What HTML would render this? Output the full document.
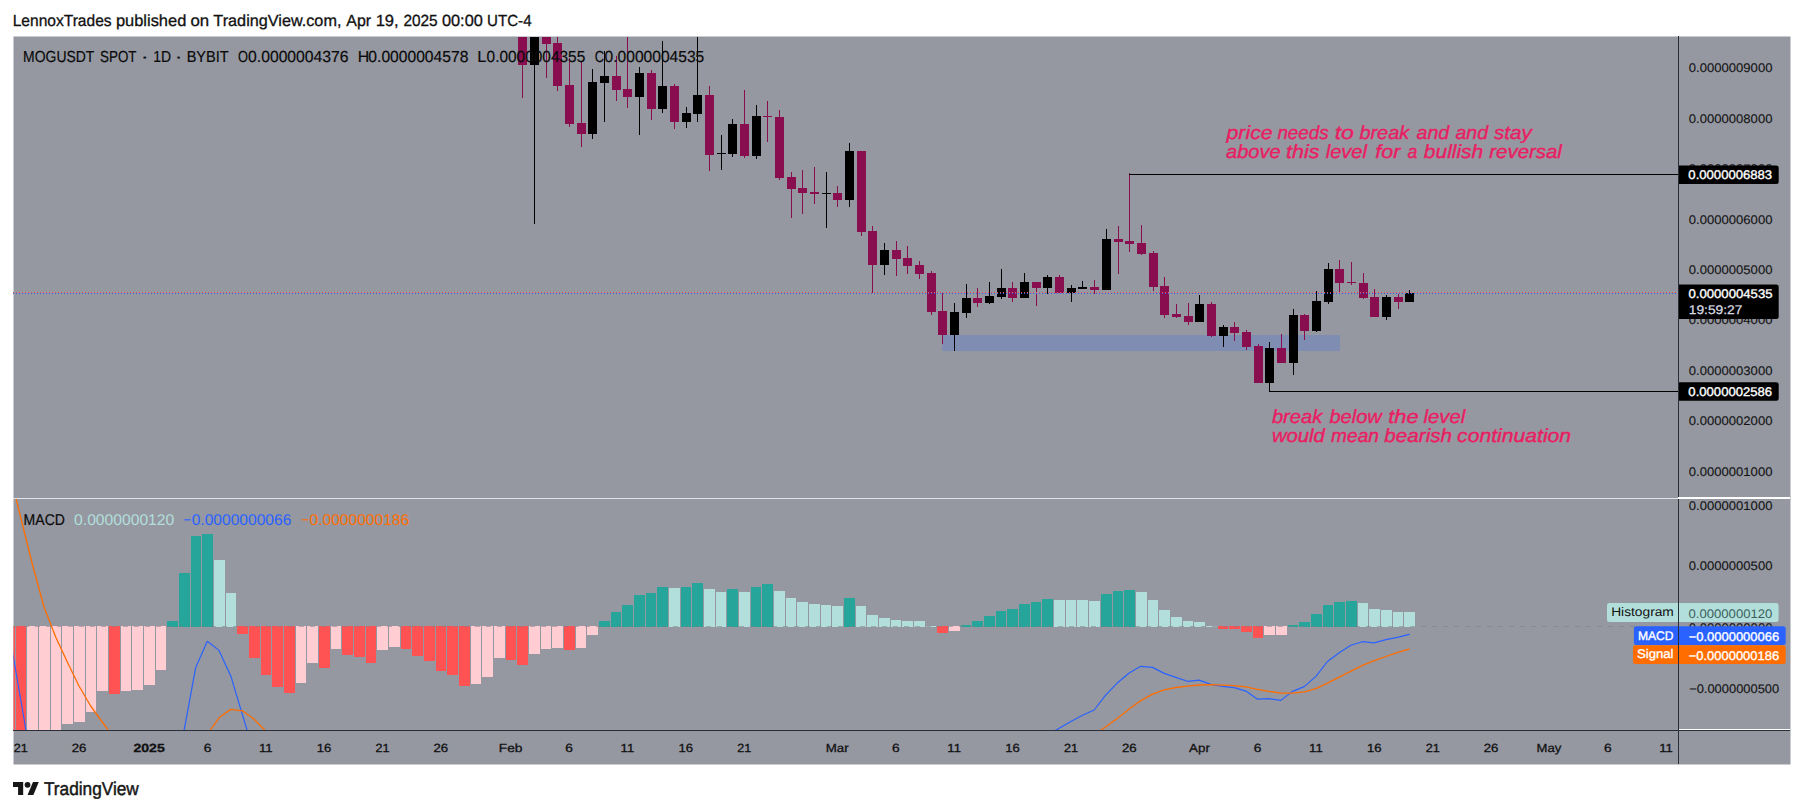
<!DOCTYPE html>
<html lang="en"><head><meta charset="utf-8"><title>MOGUSDT SPOT chart</title>
<style>html,body{margin:0;padding:0;background:#fff;}body{width:1804px;height:812px;overflow:hidden;}svg{display:block;}text{font-family:"Liberation Sans", Arial, sans-serif;text-rendering:geometricPrecision;}</style>
</head><body>
<svg width="1804" height="812" viewBox="0 0 1804 812">
<rect x="0" y="0" width="1804" height="812" fill="#ffffff"/>
<text y="26.05" font-size="16.1" fill="#111111" stroke="#111111" stroke-width="0.3"><tspan x="12.65" textLength="99.01" lengthAdjust="spacingAndGlyphs">LennoxTrades</tspan> <tspan x="115.93" textLength="70.38" lengthAdjust="spacingAndGlyphs">published</tspan> <tspan x="190.43" textLength="18.71" lengthAdjust="spacingAndGlyphs">on</tspan> <tspan x="213.38" textLength="128.05" lengthAdjust="spacingAndGlyphs">TradingView.com,</tspan> <tspan x="346.30" textLength="24.78" lengthAdjust="spacingAndGlyphs">Apr</tspan> <tspan x="375.66" textLength="23.04" lengthAdjust="spacingAndGlyphs">19,</tspan> <tspan x="403.43" textLength="34.28" lengthAdjust="spacingAndGlyphs">2025</tspan> <tspan x="441.95" textLength="40.87" lengthAdjust="spacingAndGlyphs">00:00</tspan> <tspan x="487.07" textLength="44.50" lengthAdjust="spacingAndGlyphs">UTC-4</tspan></text>
<rect x="13.5" y="36.5" width="1777" height="728" fill="#9598a1"/>
<defs><clipPath id="cm"><rect x="13.5" y="37" width="1664.5" height="461"/></clipPath><clipPath id="cd"><rect x="13.5" y="499" width="1664.5" height="231"/></clipPath></defs>
<g clip-path="url(#cm)" shape-rendering="crispEdges">
<rect x="942" y="335" width="398" height="16" fill="#2962ff" fill-opacity="0.2"/>
<rect x="522" y="30" width="1" height="68" fill="#880e4f"/>
<rect x="518" y="30" width="9" height="35" fill="#880e4f"/>
<rect x="534" y="30" width="1" height="194" fill="#000000"/>
<rect x="530" y="30" width="9" height="35" fill="#000000"/>
<rect x="546" y="30" width="1" height="48" fill="#880e4f"/>
<rect x="542" y="30" width="9" height="14" fill="#880e4f"/>
<rect x="557" y="30" width="1" height="61" fill="#880e4f"/>
<rect x="553" y="43" width="9" height="43" fill="#880e4f"/>
<rect x="569" y="58" width="1" height="69" fill="#880e4f"/>
<rect x="565" y="85" width="9" height="39" fill="#880e4f"/>
<rect x="581" y="62" width="1" height="85" fill="#880e4f"/>
<rect x="577" y="123" width="9" height="11" fill="#880e4f"/>
<rect x="592" y="69" width="1" height="70" fill="#000000"/>
<rect x="588" y="82" width="9" height="52" fill="#000000"/>
<rect x="604" y="51" width="1" height="71" fill="#000000"/>
<rect x="600" y="76" width="9" height="7" fill="#000000"/>
<rect x="616" y="56" width="1" height="45" fill="#880e4f"/>
<rect x="612" y="76" width="9" height="14" fill="#880e4f"/>
<rect x="627" y="30" width="1" height="78" fill="#880e4f"/>
<rect x="623" y="89" width="9" height="8" fill="#880e4f"/>
<rect x="639" y="67" width="1" height="68" fill="#000000"/>
<rect x="635" y="73" width="9" height="24" fill="#000000"/>
<rect x="651" y="70" width="1" height="50" fill="#880e4f"/>
<rect x="647" y="73" width="9" height="36" fill="#880e4f"/>
<rect x="662" y="41" width="1" height="72" fill="#000000"/>
<rect x="658" y="86" width="9" height="23" fill="#000000"/>
<rect x="674" y="84" width="1" height="45" fill="#880e4f"/>
<rect x="670" y="86" width="9" height="36" fill="#880e4f"/>
<rect x="686" y="107" width="1" height="21" fill="#000000"/>
<rect x="682" y="113" width="9" height="9" fill="#000000"/>
<rect x="697" y="37" width="1" height="85" fill="#000000"/>
<rect x="693" y="95" width="9" height="19" fill="#000000"/>
<rect x="709" y="86" width="1" height="85" fill="#880e4f"/>
<rect x="705" y="95" width="9" height="60" fill="#880e4f"/>
<rect x="721" y="135" width="1" height="35" fill="#000000"/>
<rect x="717" y="153" width="9" height="1" fill="#000000"/>
<rect x="732" y="119" width="1" height="38" fill="#000000"/>
<rect x="728" y="124" width="9" height="30" fill="#000000"/>
<rect x="744" y="90" width="1" height="68" fill="#880e4f"/>
<rect x="740" y="124" width="9" height="32" fill="#880e4f"/>
<rect x="756" y="105" width="1" height="54" fill="#000000"/>
<rect x="752" y="116" width="9" height="40" fill="#000000"/>
<rect x="767" y="101" width="1" height="41" fill="#880e4f"/>
<rect x="763" y="116" width="9" height="1" fill="#880e4f"/>
<rect x="779" y="110" width="1" height="70" fill="#880e4f"/>
<rect x="775" y="117" width="9" height="61" fill="#880e4f"/>
<rect x="791" y="172" width="1" height="46" fill="#880e4f"/>
<rect x="787" y="177" width="9" height="12" fill="#880e4f"/>
<rect x="802" y="170" width="1" height="44" fill="#880e4f"/>
<rect x="798" y="188" width="9" height="5" fill="#880e4f"/>
<rect x="814" y="167" width="1" height="37" fill="#880e4f"/>
<rect x="810" y="192" width="9" height="2" fill="#880e4f"/>
<rect x="826" y="172" width="1" height="56" fill="#000000"/>
<rect x="822" y="193" width="9" height="1" fill="#000000"/>
<rect x="837" y="186" width="1" height="21" fill="#880e4f"/>
<rect x="833" y="193" width="9" height="7" fill="#880e4f"/>
<rect x="849" y="143" width="1" height="64" fill="#000000"/>
<rect x="845" y="151" width="9" height="49" fill="#000000"/>
<rect x="861" y="151" width="1" height="85" fill="#880e4f"/>
<rect x="857" y="151" width="9" height="81" fill="#880e4f"/>
<rect x="872" y="226" width="1" height="67" fill="#880e4f"/>
<rect x="868" y="231" width="9" height="34" fill="#880e4f"/>
<rect x="884" y="243" width="1" height="32" fill="#000000"/>
<rect x="880" y="250" width="9" height="15" fill="#000000"/>
<rect x="896" y="241" width="1" height="35" fill="#880e4f"/>
<rect x="892" y="250" width="9" height="9" fill="#880e4f"/>
<rect x="907" y="246" width="1" height="28" fill="#880e4f"/>
<rect x="903" y="258" width="9" height="8" fill="#880e4f"/>
<rect x="919" y="261" width="1" height="18" fill="#880e4f"/>
<rect x="915" y="265" width="9" height="9" fill="#880e4f"/>
<rect x="931" y="271" width="1" height="44" fill="#880e4f"/>
<rect x="927" y="273" width="9" height="39" fill="#880e4f"/>
<rect x="942" y="293" width="1" height="51" fill="#880e4f"/>
<rect x="938" y="311" width="9" height="24" fill="#880e4f"/>
<rect x="954" y="303" width="1" height="48" fill="#000000"/>
<rect x="950" y="312" width="9" height="23" fill="#000000"/>
<rect x="966" y="284" width="1" height="34" fill="#000000"/>
<rect x="962" y="298" width="9" height="15" fill="#000000"/>
<rect x="977" y="288" width="1" height="19" fill="#880e4f"/>
<rect x="973" y="298" width="9" height="5" fill="#880e4f"/>
<rect x="989" y="282" width="1" height="22" fill="#000000"/>
<rect x="985" y="296" width="9" height="7" fill="#000000"/>
<rect x="1001" y="269" width="1" height="30" fill="#000000"/>
<rect x="997" y="288" width="9" height="9" fill="#000000"/>
<rect x="1012" y="282" width="1" height="20" fill="#880e4f"/>
<rect x="1008" y="288" width="9" height="10" fill="#880e4f"/>
<rect x="1024" y="273" width="1" height="25" fill="#000000"/>
<rect x="1020" y="282" width="9" height="16" fill="#000000"/>
<rect x="1036" y="282" width="1" height="24" fill="#880e4f"/>
<rect x="1032" y="282" width="9" height="6" fill="#880e4f"/>
<rect x="1047" y="275" width="1" height="19" fill="#000000"/>
<rect x="1043" y="277" width="9" height="11" fill="#000000"/>
<rect x="1059" y="275" width="1" height="18" fill="#880e4f"/>
<rect x="1055" y="277" width="9" height="16" fill="#880e4f"/>
<rect x="1071" y="285" width="1" height="17" fill="#000000"/>
<rect x="1067" y="288" width="9" height="5" fill="#000000"/>
<rect x="1082" y="281" width="1" height="8" fill="#000000"/>
<rect x="1078" y="287" width="9" height="2" fill="#000000"/>
<rect x="1094" y="280" width="1" height="14" fill="#880e4f"/>
<rect x="1090" y="287" width="9" height="3" fill="#880e4f"/>
<rect x="1106" y="229" width="1" height="61" fill="#000000"/>
<rect x="1102" y="239" width="9" height="51" fill="#000000"/>
<rect x="1118" y="226" width="1" height="48" fill="#880e4f"/>
<rect x="1114" y="239" width="9" height="3" fill="#880e4f"/>
<rect x="1129" y="173" width="1" height="79" fill="#880e4f"/>
<rect x="1125" y="241" width="9" height="3" fill="#880e4f"/>
<rect x="1141" y="225" width="1" height="30" fill="#880e4f"/>
<rect x="1137" y="243" width="9" height="11" fill="#880e4f"/>
<rect x="1153" y="251" width="1" height="40" fill="#880e4f"/>
<rect x="1149" y="253" width="9" height="34" fill="#880e4f"/>
<rect x="1164" y="277" width="1" height="41" fill="#880e4f"/>
<rect x="1160" y="286" width="9" height="29" fill="#880e4f"/>
<rect x="1176" y="304" width="1" height="14" fill="#880e4f"/>
<rect x="1172" y="314" width="9" height="3" fill="#880e4f"/>
<rect x="1188" y="303" width="1" height="22" fill="#880e4f"/>
<rect x="1184" y="316" width="9" height="6" fill="#880e4f"/>
<rect x="1199" y="295" width="1" height="27" fill="#000000"/>
<rect x="1195" y="304" width="9" height="18" fill="#000000"/>
<rect x="1211" y="302" width="1" height="35" fill="#880e4f"/>
<rect x="1207" y="304" width="9" height="32" fill="#880e4f"/>
<rect x="1223" y="325" width="1" height="22" fill="#000000"/>
<rect x="1219" y="327" width="9" height="9" fill="#000000"/>
<rect x="1234" y="322" width="1" height="19" fill="#880e4f"/>
<rect x="1230" y="327" width="9" height="6" fill="#880e4f"/>
<rect x="1246" y="330" width="1" height="20" fill="#880e4f"/>
<rect x="1242" y="332" width="9" height="15" fill="#880e4f"/>
<rect x="1258" y="344" width="1" height="39" fill="#880e4f"/>
<rect x="1254" y="346" width="9" height="37" fill="#880e4f"/>
<rect x="1269" y="342" width="1" height="50" fill="#000000"/>
<rect x="1265" y="348" width="9" height="35" fill="#000000"/>
<rect x="1281" y="334" width="1" height="29" fill="#880e4f"/>
<rect x="1277" y="348" width="9" height="15" fill="#880e4f"/>
<rect x="1293" y="309" width="1" height="66" fill="#000000"/>
<rect x="1289" y="315" width="9" height="48" fill="#000000"/>
<rect x="1304" y="314" width="1" height="26" fill="#880e4f"/>
<rect x="1300" y="315" width="9" height="16" fill="#880e4f"/>
<rect x="1316" y="291" width="1" height="41" fill="#000000"/>
<rect x="1312" y="301" width="9" height="30" fill="#000000"/>
<rect x="1328" y="263" width="1" height="41" fill="#000000"/>
<rect x="1324" y="269" width="9" height="33" fill="#000000"/>
<rect x="1339" y="260" width="1" height="32" fill="#880e4f"/>
<rect x="1335" y="269" width="9" height="14" fill="#880e4f"/>
<rect x="1351" y="262" width="1" height="23" fill="#880e4f"/>
<rect x="1347" y="282" width="9" height="1" fill="#880e4f"/>
<rect x="1363" y="273" width="1" height="26" fill="#880e4f"/>
<rect x="1359" y="283" width="9" height="15" fill="#880e4f"/>
<rect x="1374" y="289" width="1" height="28" fill="#880e4f"/>
<rect x="1370" y="297" width="9" height="20" fill="#880e4f"/>
<rect x="1386" y="295" width="1" height="25" fill="#000000"/>
<rect x="1382" y="297" width="9" height="20" fill="#000000"/>
<rect x="1398" y="294" width="1" height="15" fill="#880e4f"/>
<rect x="1394" y="297" width="9" height="5" fill="#880e4f"/>
<rect x="1409" y="290" width="1" height="12" fill="#000000"/>
<rect x="1405" y="293" width="9" height="9" fill="#000000"/>
<rect x="1129" y="174" width="549" height="1" fill="#000"/>
<rect x="1269" y="391" width="409" height="1" fill="#000"/>
</g>
<g shape-rendering="crispEdges">
<line x1="13" y1="292.5" x2="1678" y2="292.5" stroke="#ff5252" stroke-width="1" stroke-dasharray="1 2"/>
<line x1="13" y1="293.5" x2="1678" y2="293.5" stroke="#2962ff" stroke-width="1" stroke-dasharray="1 2"/>
</g>
<text y="138.70" font-size="18.9" fill="#e91e63" font-style="italic" stroke="#e91e63" stroke-width="0.4"><tspan x="1226.53" textLength="46.17" lengthAdjust="spacingAndGlyphs">price</tspan> <tspan x="1277.42" textLength="51.25" lengthAdjust="spacingAndGlyphs">needs</tspan> <tspan x="1334.66" textLength="19.20" lengthAdjust="spacingAndGlyphs">to</tspan> <tspan x="1359.40" textLength="49.83" lengthAdjust="spacingAndGlyphs">break</tspan> <tspan x="1416.51" textLength="32.67" lengthAdjust="spacingAndGlyphs">and</tspan> <tspan x="1455.51" textLength="32.57" lengthAdjust="spacingAndGlyphs">and</tspan> <tspan x="1494.00" textLength="37.85" lengthAdjust="spacingAndGlyphs">stay</tspan></text>
<text y="157.60" font-size="18.9" fill="#e91e63" font-style="italic" stroke="#e91e63" stroke-width="0.4"><tspan x="1226.10" textLength="54.49" lengthAdjust="spacingAndGlyphs">above</tspan> <tspan x="1286.03" textLength="33.42" lengthAdjust="spacingAndGlyphs">this</tspan> <tspan x="1325.70" textLength="41.33" lengthAdjust="spacingAndGlyphs">level</tspan> <tspan x="1375.25" textLength="25.04" lengthAdjust="spacingAndGlyphs">for</tspan> <tspan x="1407.45" textLength="9.80" lengthAdjust="spacingAndGlyphs">a</tspan> <tspan x="1423.89" textLength="59.36" lengthAdjust="spacingAndGlyphs">bullish</tspan> <tspan x="1489.29" textLength="72.63" lengthAdjust="spacingAndGlyphs">reversal</tspan></text>
<text y="422.60" font-size="18.9" fill="#e91e63" font-style="italic" stroke="#e91e63" stroke-width="0.4"><tspan x="1271.90" textLength="50.43" lengthAdjust="spacingAndGlyphs">break</tspan> <tspan x="1329.40" textLength="52.46" lengthAdjust="spacingAndGlyphs">below</tspan> <tspan x="1388.22" textLength="30.35" lengthAdjust="spacingAndGlyphs">the</tspan> <tspan x="1423.60" textLength="41.63" lengthAdjust="spacingAndGlyphs">level</tspan></text>
<text y="441.70" font-size="18.9" fill="#e91e63" font-style="italic" stroke="#e91e63" stroke-width="0.4"><tspan x="1271.99" textLength="52.86" lengthAdjust="spacingAndGlyphs">would</tspan> <tspan x="1331.11" textLength="47.78" lengthAdjust="spacingAndGlyphs">mean</tspan> <tspan x="1384.39" textLength="67.64" lengthAdjust="spacingAndGlyphs">bearish</tspan> <tspan x="1457.07" textLength="114.05" lengthAdjust="spacingAndGlyphs">continuation</tspan></text>
<text y="62.15" font-size="16.0" fill="#0a0a0a" stroke="#0a0a0a" stroke-width="0.2"><tspan x="23.09" textLength="71.00" lengthAdjust="spacingAndGlyphs">MOGUSDT</tspan> <tspan x="100.00" textLength="36.30" lengthAdjust="spacingAndGlyphs">SPOT</tspan> <tspan x="140.74" textLength="7.99" lengthAdjust="spacingAndGlyphs">·</tspan> <tspan x="153.35" textLength="17.82" lengthAdjust="spacingAndGlyphs">1D</tspan> <tspan x="174.66" textLength="7.66" lengthAdjust="spacingAndGlyphs">·</tspan> <tspan x="186.64" textLength="41.84" lengthAdjust="spacingAndGlyphs">BYBIT</tspan> <tspan x="238.12" textLength="9.99" lengthAdjust="spacingAndGlyphs">O</tspan><tspan x="248.07" textLength="100.47" lengthAdjust="spacingAndGlyphs">0.0000004376</tspan> <tspan x="357.73" textLength="11.48" lengthAdjust="spacingAndGlyphs">H</tspan><tspan x="368.37" textLength="99.96" lengthAdjust="spacingAndGlyphs">0.0000004578</tspan> <tspan x="477.39" textLength="9.12" lengthAdjust="spacingAndGlyphs">L</tspan><tspan x="486.58" textLength="98.64" lengthAdjust="spacingAndGlyphs">0.0000004355</tspan> <tspan x="594.85" textLength="9.33" lengthAdjust="spacingAndGlyphs">C</tspan><tspan x="604.58" textLength="99.66" lengthAdjust="spacingAndGlyphs">0.0000004535</tspan></text>
<g shape-rendering="crispEdges">
<rect x="13" y="498" width="1665" height="1" fill="#e0e3eb"/>
</g>
<g clip-path="url(#cd)">
<g shape-rendering="crispEdges">
<rect x="4" y="626" width="11" height="114" fill="#ff5252"/>
<rect x="16" y="626" width="10" height="114" fill="#ff5252"/>
<rect x="27" y="626" width="11" height="114" fill="#ffcdd2"/>
<rect x="39" y="626" width="11" height="114" fill="#ffcdd2"/>
<rect x="51" y="626" width="10" height="114" fill="#ffcdd2"/>
<rect x="62" y="626" width="11" height="98" fill="#ffcdd2"/>
<rect x="74" y="626" width="11" height="96" fill="#ffcdd2"/>
<rect x="86" y="626" width="10" height="86" fill="#ffcdd2"/>
<rect x="97" y="626" width="11" height="65" fill="#ffcdd2"/>
<rect x="109" y="626" width="11" height="68" fill="#ff5252"/>
<rect x="121" y="626" width="10" height="65" fill="#ffcdd2"/>
<rect x="132" y="626" width="11" height="64" fill="#ffcdd2"/>
<rect x="144" y="626" width="11" height="59" fill="#ffcdd2"/>
<rect x="156" y="626" width="10" height="44" fill="#ffcdd2"/>
<rect x="167" y="621" width="11" height="6" fill="#26a69a"/>
<rect x="179" y="573" width="11" height="54" fill="#26a69a"/>
<rect x="191" y="536" width="10" height="91" fill="#26a69a"/>
<rect x="202" y="534" width="11" height="93" fill="#26a69a"/>
<rect x="214" y="560" width="11" height="67" fill="#b2dfdb"/>
<rect x="226" y="593" width="10" height="34" fill="#b2dfdb"/>
<rect x="237" y="626" width="11" height="8" fill="#ff5252"/>
<rect x="249" y="626" width="11" height="32" fill="#ff5252"/>
<rect x="261" y="626" width="10" height="49" fill="#ff5252"/>
<rect x="272" y="626" width="11" height="61" fill="#ff5252"/>
<rect x="284" y="626" width="11" height="67" fill="#ff5252"/>
<rect x="296" y="626" width="10" height="57" fill="#ffcdd2"/>
<rect x="307" y="626" width="11" height="37" fill="#ffcdd2"/>
<rect x="319" y="626" width="11" height="42" fill="#ff5252"/>
<rect x="331" y="626" width="10" height="23" fill="#ffcdd2"/>
<rect x="342" y="626" width="11" height="29" fill="#ff5252"/>
<rect x="354" y="626" width="11" height="31" fill="#ff5252"/>
<rect x="366" y="626" width="10" height="37" fill="#ff5252"/>
<rect x="377" y="626" width="11" height="24" fill="#ffcdd2"/>
<rect x="389" y="626" width="11" height="21" fill="#ffcdd2"/>
<rect x="401" y="626" width="10" height="23" fill="#ff5252"/>
<rect x="412" y="626" width="11" height="30" fill="#ff5252"/>
<rect x="424" y="626" width="11" height="35" fill="#ff5252"/>
<rect x="436" y="626" width="10" height="45" fill="#ff5252"/>
<rect x="447" y="626" width="11" height="49" fill="#ff5252"/>
<rect x="459" y="626" width="11" height="60" fill="#ff5252"/>
<rect x="471" y="626" width="10" height="58" fill="#ffcdd2"/>
<rect x="482" y="626" width="11" height="51" fill="#ffcdd2"/>
<rect x="494" y="626" width="11" height="32" fill="#ffcdd2"/>
<rect x="506" y="626" width="10" height="34" fill="#ff5252"/>
<rect x="517" y="626" width="11" height="39" fill="#ff5252"/>
<rect x="529" y="626" width="11" height="28" fill="#ffcdd2"/>
<rect x="541" y="626" width="10" height="23" fill="#ffcdd2"/>
<rect x="552" y="626" width="11" height="22" fill="#ffcdd2"/>
<rect x="564" y="626" width="11" height="24" fill="#ff5252"/>
<rect x="576" y="626" width="10" height="22" fill="#ffcdd2"/>
<rect x="587" y="626" width="11" height="9" fill="#ffcdd2"/>
<rect x="599" y="621" width="11" height="6" fill="#26a69a"/>
<rect x="611" y="612" width="10" height="15" fill="#26a69a"/>
<rect x="622" y="605" width="11" height="22" fill="#26a69a"/>
<rect x="634" y="595" width="11" height="32" fill="#26a69a"/>
<rect x="646" y="593" width="10" height="34" fill="#26a69a"/>
<rect x="657" y="587" width="11" height="40" fill="#26a69a"/>
<rect x="669" y="588" width="11" height="39" fill="#b2dfdb"/>
<rect x="681" y="587" width="10" height="40" fill="#26a69a"/>
<rect x="692" y="583" width="11" height="44" fill="#26a69a"/>
<rect x="704" y="589" width="11" height="38" fill="#b2dfdb"/>
<rect x="716" y="592" width="10" height="35" fill="#b2dfdb"/>
<rect x="727" y="589" width="11" height="38" fill="#26a69a"/>
<rect x="739" y="592" width="11" height="35" fill="#b2dfdb"/>
<rect x="751" y="587" width="10" height="40" fill="#26a69a"/>
<rect x="762" y="584" width="11" height="43" fill="#26a69a"/>
<rect x="774" y="591" width="11" height="36" fill="#b2dfdb"/>
<rect x="786" y="598" width="10" height="29" fill="#b2dfdb"/>
<rect x="797" y="602" width="11" height="25" fill="#b2dfdb"/>
<rect x="809" y="604" width="11" height="23" fill="#b2dfdb"/>
<rect x="821" y="605" width="10" height="22" fill="#b2dfdb"/>
<rect x="832" y="606" width="11" height="21" fill="#b2dfdb"/>
<rect x="844" y="598" width="11" height="29" fill="#26a69a"/>
<rect x="856" y="606" width="10" height="21" fill="#b2dfdb"/>
<rect x="867" y="615" width="11" height="12" fill="#b2dfdb"/>
<rect x="879" y="618" width="11" height="9" fill="#b2dfdb"/>
<rect x="891" y="620" width="10" height="7" fill="#b2dfdb"/>
<rect x="902" y="621" width="11" height="6" fill="#b2dfdb"/>
<rect x="914" y="621" width="11" height="6" fill="#b2dfdb"/>
<rect x="926" y="626" width="10" height="1" fill="#b2dfdb"/>
<rect x="937" y="626" width="11" height="7" fill="#ff5252"/>
<rect x="949" y="626" width="11" height="5" fill="#ffcdd2"/>
<rect x="961" y="625" width="10" height="2" fill="#26a69a"/>
<rect x="972" y="621" width="11" height="6" fill="#26a69a"/>
<rect x="984" y="616" width="11" height="11" fill="#26a69a"/>
<rect x="996" y="611" width="10" height="16" fill="#26a69a"/>
<rect x="1007" y="609" width="11" height="18" fill="#26a69a"/>
<rect x="1019" y="604" width="11" height="23" fill="#26a69a"/>
<rect x="1031" y="602" width="10" height="25" fill="#26a69a"/>
<rect x="1042" y="599" width="11" height="28" fill="#26a69a"/>
<rect x="1054" y="600" width="11" height="27" fill="#b2dfdb"/>
<rect x="1066" y="600" width="10" height="27" fill="#b2dfdb"/>
<rect x="1077" y="600" width="11" height="27" fill="#b2dfdb"/>
<rect x="1089" y="601" width="11" height="26" fill="#b2dfdb"/>
<rect x="1101" y="594" width="11" height="33" fill="#26a69a"/>
<rect x="1113" y="591" width="10" height="36" fill="#26a69a"/>
<rect x="1124" y="590" width="11" height="37" fill="#26a69a"/>
<rect x="1136" y="592" width="11" height="35" fill="#b2dfdb"/>
<rect x="1148" y="600" width="10" height="27" fill="#b2dfdb"/>
<rect x="1159" y="610" width="11" height="17" fill="#b2dfdb"/>
<rect x="1171" y="617" width="11" height="10" fill="#b2dfdb"/>
<rect x="1183" y="621" width="10" height="6" fill="#b2dfdb"/>
<rect x="1194" y="622" width="11" height="5" fill="#b2dfdb"/>
<rect x="1206" y="626" width="11" height="1" fill="#b2dfdb"/>
<rect x="1218" y="626" width="10" height="3" fill="#ff5252"/>
<rect x="1229" y="626" width="11" height="3" fill="#ff5252"/>
<rect x="1241" y="626" width="11" height="6" fill="#ff5252"/>
<rect x="1253" y="626" width="10" height="12" fill="#ff5252"/>
<rect x="1264" y="626" width="11" height="9" fill="#ffcdd2"/>
<rect x="1276" y="626" width="11" height="9" fill="#ffcdd2"/>
<rect x="1288" y="625" width="10" height="2" fill="#26a69a"/>
<rect x="1299" y="622" width="11" height="5" fill="#26a69a"/>
<rect x="1311" y="614" width="11" height="13" fill="#26a69a"/>
<rect x="1323" y="605" width="10" height="22" fill="#26a69a"/>
<rect x="1334" y="602" width="11" height="25" fill="#26a69a"/>
<rect x="1346" y="601" width="11" height="26" fill="#26a69a"/>
<rect x="1358" y="603" width="10" height="24" fill="#b2dfdb"/>
<rect x="1369" y="609" width="11" height="18" fill="#b2dfdb"/>
<rect x="1381" y="610" width="11" height="17" fill="#b2dfdb"/>
<rect x="1393" y="612" width="10" height="15" fill="#b2dfdb"/>
<rect x="1404" y="612" width="11" height="15" fill="#b2dfdb"/>
<line x1="13" y1="626.5" x2="1678" y2="626.5" stroke="#787b86" stroke-opacity="0.5" stroke-width="1" stroke-dasharray="5 6"/>
</g>
<polyline points="9.0,631.0 20.6,699.0 32.3,767.0" fill="none" stroke="#2962ff" stroke-width="1.2" stroke-linejoin="round" stroke-linecap="round"/>
<polyline points="172.3,800.0 184.0,731.0 195.7,667.4 207.3,641.3 219.0,650.4 230.7,675.7 242.4,714.6 254.0,753.0" fill="none" stroke="#2962ff" stroke-width="1.2" stroke-linejoin="round" stroke-linecap="round"/>
<polyline points="1047.5,735.0 1059.2,728.3 1070.8,721.5 1082.5,715.2 1094.2,710.0 1105.8,694.8 1117.5,682.8 1129.2,673.0 1140.8,666.3 1152.5,667.4 1164.2,673.4 1175.8,677.4 1187.5,681.3 1199.2,680.1 1210.9,684.4 1222.5,686.4 1234.2,687.7 1245.9,691.1 1257.5,699.2 1269.2,698.7 1280.9,700.4 1292.5,691.4 1304.2,686.6 1315.9,676.4 1327.5,661.5 1339.2,652.7 1350.9,645.2 1362.5,641.7 1374.2,642.8 1385.9,639.7 1397.6,637.4 1409.2,634.4" fill="none" stroke="#2962ff" stroke-width="1.2" stroke-linejoin="round" stroke-linecap="round"/>
<polyline points="-2.7,420.0 9.0,470.0 20.6,517.0 32.3,564.0 44.0,607.0 55.7,637.0 67.3,662.0 79.0,686.0 90.7,706.0 102.3,722.0 114.0,738.0" fill="none" stroke="#ff6d00" stroke-width="1.3" stroke-linejoin="round" stroke-linecap="round"/>
<polyline points="207.3,734.6 219.0,717.8 230.7,709.4 242.4,710.8 254.0,719.0 265.7,731.0" fill="none" stroke="#ff6d00" stroke-width="1.3" stroke-linejoin="round" stroke-linecap="round"/>
<polyline points="1094.2,735.0 1105.8,726.7 1117.5,718.2 1129.2,709.0 1140.8,700.6 1152.5,694.1 1164.2,689.8 1175.8,687.5 1187.5,686.2 1199.2,685.0 1210.9,684.7 1222.5,685.1 1234.2,685.6 1245.9,686.9 1257.5,689.4 1269.2,691.4 1280.9,693.1 1292.5,693.1 1304.2,691.9 1315.9,688.7 1327.5,683.1 1339.2,677.1 1350.9,671.1 1362.5,665.3 1374.2,660.6 1385.9,656.5 1397.6,652.3 1409.2,649.2" fill="none" stroke="#ff6d00" stroke-width="1.3" stroke-linejoin="round" stroke-linecap="round"/>
</g>
<text y="524.70" font-size="15.5" fill="#0a0a0a" stroke="#0a0a0a" stroke-width="0.2"><tspan x="23.58" textLength="41.32" lengthAdjust="spacingAndGlyphs">MACD</tspan></text>
<text y="524.70" font-size="15.5" fill="#b2dfdb"><tspan x="74.07" textLength="100.19" lengthAdjust="spacingAndGlyphs">0.0000000120</tspan></text>
<text y="524.70" font-size="15.5" fill="#2962ff"><tspan x="183.44" textLength="7.71" lengthAdjust="spacingAndGlyphs">−</tspan><tspan x="191.68" textLength="99.66" lengthAdjust="spacingAndGlyphs">0.0000000066</tspan></text>
<text y="524.70" font-size="15.5" fill="#ff6d00"><tspan x="301.34" textLength="7.71" lengthAdjust="spacingAndGlyphs">−</tspan><tspan x="309.58" textLength="99.56" lengthAdjust="spacingAndGlyphs">0.0000000186</tspan></text>
<g shape-rendering="crispEdges">
<rect x="1678" y="36" width="1" height="728" fill="#2a2e39"/>
<rect x="1678" y="497" width="112" height="2" fill="#ffffff"/>
<rect x="1679" y="729" width="111" height="1" fill="#ffffff"/>
<rect x="13" y="730" width="1777" height="1" fill="#2a2e39"/>
</g>
<text x="1688.78" y="72.30" font-size="12.4" fill="#141414" textLength="83.69" lengthAdjust="spacingAndGlyphs" stroke="#141414" stroke-width="0.12">0.0000009000</text>
<text x="1688.78" y="122.70" font-size="12.4" fill="#141414" textLength="83.69" lengthAdjust="spacingAndGlyphs" stroke="#141414" stroke-width="0.12">0.0000008000</text>
<text x="1688.78" y="173.10" font-size="12.4" fill="#141414" textLength="83.69" lengthAdjust="spacingAndGlyphs" stroke="#141414" stroke-width="0.12">0.0000007000</text>
<text x="1688.78" y="223.50" font-size="12.4" fill="#141414" textLength="83.69" lengthAdjust="spacingAndGlyphs" stroke="#141414" stroke-width="0.12">0.0000006000</text>
<text x="1688.78" y="273.90" font-size="12.4" fill="#141414" textLength="83.69" lengthAdjust="spacingAndGlyphs" stroke="#141414" stroke-width="0.12">0.0000005000</text>
<text x="1688.78" y="324.30" font-size="12.4" fill="#141414" textLength="83.69" lengthAdjust="spacingAndGlyphs" stroke="#141414" stroke-width="0.12">0.0000004000</text>
<text x="1688.78" y="374.70" font-size="12.4" fill="#141414" textLength="83.69" lengthAdjust="spacingAndGlyphs" stroke="#141414" stroke-width="0.12">0.0000003000</text>
<text x="1688.78" y="425.10" font-size="12.4" fill="#141414" textLength="83.69" lengthAdjust="spacingAndGlyphs" stroke="#141414" stroke-width="0.12">0.0000002000</text>
<text x="1688.78" y="475.50" font-size="12.4" fill="#141414" textLength="83.69" lengthAdjust="spacingAndGlyphs" stroke="#141414" stroke-width="0.12">0.0000001000</text>
<text x="1688.78" y="510.00" font-size="12.4" fill="#141414" textLength="83.69" lengthAdjust="spacingAndGlyphs" stroke="#141414" stroke-width="0.12">0.0000001000</text>
<text x="1688.78" y="570.40" font-size="12.4" fill="#141414" textLength="83.69" lengthAdjust="spacingAndGlyphs" stroke="#141414" stroke-width="0.12">0.0000000500</text>
<text x="1688.78" y="631.60" font-size="12.4" fill="#141414" textLength="83.69" lengthAdjust="spacingAndGlyphs" stroke="#141414" stroke-width="0.12">0.0000000000</text>
<text x="1689.15" y="692.90" font-size="12.4" fill="#141414" textLength="90.09" lengthAdjust="spacingAndGlyphs" stroke="#141414" stroke-width="0.12">−0.0000000500</text>
<path d="M1679.0 165.5 h97.2 a2.5 2.5 0 0 1 2.5 2.5 v13.4 a2.5 2.5 0 0 1 -2.5 2.5 h-97.2 z" fill="#000"/>
<text x="1688.38" y="178.60" font-size="12.5" fill="#fff" textLength="83.76" lengthAdjust="spacingAndGlyphs" stroke="#ffffff" stroke-width="0.35">0.0000006883</text>
<path d="M1679.0 284.5 h97.2 a2.5 2.5 0 0 1 2.5 2.5 v29.6 a2.5 2.5 0 0 1 -2.5 2.5 h-97.2 z" fill="#000"/>
<text x="1688.47" y="297.90" font-size="12.5" fill="#fff" textLength="84.06" lengthAdjust="spacingAndGlyphs" stroke="#ffffff" stroke-width="0.35">0.0000004535</text>
<text x="1688.77" y="314.00" font-size="12.5" fill="#d8dbe2" textLength="53.66" lengthAdjust="spacingAndGlyphs" stroke="#d8dbe2" stroke-width="0.25">19:59:27</text>
<path d="M1679.0 382.3 h97.2 a2.5 2.5 0 0 1 2.5 2.5 v13.4 a2.5 2.5 0 0 1 -2.5 2.5 h-97.2 z" fill="#000"/>
<text x="1688.38" y="395.50" font-size="12.5" fill="#fff" textLength="83.76" lengthAdjust="spacingAndGlyphs" stroke="#ffffff" stroke-width="0.35">0.0000002586</text>
<path d="M1609.5 603.0 h68.5 v19.0 h-68.5 a2.5 2.5 0 0 1 -2.5 -2.5 v-14.0 a2.5 2.5 0 0 1 2.5 -2.5 z" fill="#b2dfdb"/>
<path d="M1678.0 603.0 h98.1 a2.5 2.5 0 0 1 2.5 2.5 v14.0 a2.5 2.5 0 0 1 -2.5 2.5 h-98.1 z" fill="#b2dfdb"/>
<text x="1611.20" y="615.90" font-size="12.5" fill="#111111" textLength="62.65" lengthAdjust="spacingAndGlyphs">Histogram</text>
<text x="1688.48" y="617.50" font-size="12.5" fill="#3c5f5b" textLength="83.89" lengthAdjust="spacingAndGlyphs">0.0000000120</text>
<path d="M1636.4 626.2 h41.6 v18.8 h-41.6 a2.5 2.5 0 0 1 -2.5 -2.5 v-13.8 a2.5 2.5 0 0 1 2.5 -2.5 z" fill="#2962ff"/>
<path d="M1678.0 626.2 h105.2 a2.5 2.5 0 0 1 2.5 2.5 v13.8 a2.5 2.5 0 0 1 -2.5 2.5 h-105.2 z" fill="#2962ff"/>
<text x="1637.93" y="639.60" font-size="12.5" fill="#fff" textLength="35.67" lengthAdjust="spacingAndGlyphs" stroke="#ffffff" stroke-width="0.35">MACD</text>
<text x="1688.75" y="640.80" font-size="12.5" fill="#fff" textLength="90.36" lengthAdjust="spacingAndGlyphs" stroke="#ffffff" stroke-width="0.35">−0.0000000066</text>
<path d="M1635.5 645.2 h42.5 v18.9 h-42.5 a2.5 2.5 0 0 1 -2.5 -2.5 v-13.9 a2.5 2.5 0 0 1 2.5 -2.5 z" fill="#ff6d00"/>
<path d="M1678.0 645.2 h105.2 a2.5 2.5 0 0 1 2.5 2.5 v13.9 a2.5 2.5 0 0 1 -2.5 2.5 h-105.2 z" fill="#ff6d00"/>
<text x="1636.91" y="657.90" font-size="12.5" fill="#fff" textLength="36.65" lengthAdjust="spacingAndGlyphs" stroke="#ffffff" stroke-width="0.35">Signal</text>
<text x="1688.75" y="660.00" font-size="12.5" fill="#fff" textLength="90.36" lengthAdjust="spacingAndGlyphs" stroke="#ffffff" stroke-width="0.35">−0.0000000186</text>
<rect x="1678" y="603" width="1" height="62" fill="#2a2e39" shape-rendering="crispEdges"/>
<text x="13.82" y="751.55" font-size="11.8" fill="#111111" textLength="14.03" lengthAdjust="spacingAndGlyphs" stroke="#111111" stroke-width="0.3">21</text>
<text x="71.78" y="751.55" font-size="11.8" fill="#111111" textLength="14.72" lengthAdjust="spacingAndGlyphs" stroke="#111111" stroke-width="0.3">26</text>
<text x="133.46" y="751.55" font-size="11.8" fill="#111111" textLength="31.34" lengthAdjust="spacingAndGlyphs" font-weight="bold" stroke="#111111" stroke-width="0.3">2025</text>
<text x="203.66" y="751.55" font-size="11.8" fill="#111111" textLength="7.65" lengthAdjust="spacingAndGlyphs" stroke="#111111" stroke-width="0.3">6</text>
<text x="258.90" y="751.55" font-size="11.8" fill="#111111" textLength="13.61" lengthAdjust="spacingAndGlyphs" stroke="#111111" stroke-width="0.3">11</text>
<text x="316.75" y="751.55" font-size="11.8" fill="#111111" textLength="14.53" lengthAdjust="spacingAndGlyphs" stroke="#111111" stroke-width="0.3">16</text>
<text x="375.55" y="751.55" font-size="11.8" fill="#111111" textLength="14.03" lengthAdjust="spacingAndGlyphs" stroke="#111111" stroke-width="0.3">21</text>
<text x="433.51" y="751.55" font-size="11.8" fill="#111111" textLength="14.72" lengthAdjust="spacingAndGlyphs" stroke="#111111" stroke-width="0.3">26</text>
<text x="498.83" y="751.55" font-size="11.8" fill="#111111" textLength="23.69" lengthAdjust="spacingAndGlyphs" stroke="#111111" stroke-width="0.3">Feb</text>
<text x="565.39" y="751.55" font-size="11.8" fill="#111111" textLength="7.65" lengthAdjust="spacingAndGlyphs" stroke="#111111" stroke-width="0.3">6</text>
<text x="620.63" y="751.55" font-size="11.8" fill="#111111" textLength="13.61" lengthAdjust="spacingAndGlyphs" stroke="#111111" stroke-width="0.3">11</text>
<text x="678.48" y="751.55" font-size="11.8" fill="#111111" textLength="14.53" lengthAdjust="spacingAndGlyphs" stroke="#111111" stroke-width="0.3">16</text>
<text x="737.27" y="751.55" font-size="11.8" fill="#111111" textLength="14.03" lengthAdjust="spacingAndGlyphs" stroke="#111111" stroke-width="0.3">21</text>
<text x="825.74" y="751.55" font-size="11.8" fill="#111111" textLength="22.93" lengthAdjust="spacingAndGlyphs" stroke="#111111" stroke-width="0.3">Mar</text>
<text x="892.11" y="751.55" font-size="11.8" fill="#111111" textLength="7.65" lengthAdjust="spacingAndGlyphs" stroke="#111111" stroke-width="0.3">6</text>
<text x="947.36" y="751.55" font-size="11.8" fill="#111111" textLength="13.61" lengthAdjust="spacingAndGlyphs" stroke="#111111" stroke-width="0.3">11</text>
<text x="1005.21" y="751.55" font-size="11.8" fill="#111111" textLength="14.53" lengthAdjust="spacingAndGlyphs" stroke="#111111" stroke-width="0.3">16</text>
<text x="1064.00" y="751.55" font-size="11.8" fill="#111111" textLength="14.03" lengthAdjust="spacingAndGlyphs" stroke="#111111" stroke-width="0.3">21</text>
<text x="1121.96" y="751.55" font-size="11.8" fill="#111111" textLength="14.72" lengthAdjust="spacingAndGlyphs" stroke="#111111" stroke-width="0.3">26</text>
<text x="1189.08" y="751.55" font-size="11.8" fill="#111111" textLength="20.75" lengthAdjust="spacingAndGlyphs" stroke="#111111" stroke-width="0.3">Apr</text>
<text x="1253.84" y="751.55" font-size="11.8" fill="#111111" textLength="7.65" lengthAdjust="spacingAndGlyphs" stroke="#111111" stroke-width="0.3">6</text>
<text x="1309.09" y="751.55" font-size="11.8" fill="#111111" textLength="13.61" lengthAdjust="spacingAndGlyphs" stroke="#111111" stroke-width="0.3">11</text>
<text x="1366.94" y="751.55" font-size="11.8" fill="#111111" textLength="14.53" lengthAdjust="spacingAndGlyphs" stroke="#111111" stroke-width="0.3">16</text>
<text x="1425.73" y="751.55" font-size="11.8" fill="#111111" textLength="14.03" lengthAdjust="spacingAndGlyphs" stroke="#111111" stroke-width="0.3">21</text>
<text x="1483.69" y="751.55" font-size="11.8" fill="#111111" textLength="14.72" lengthAdjust="spacingAndGlyphs" stroke="#111111" stroke-width="0.3">26</text>
<text x="1536.55" y="751.55" font-size="11.8" fill="#111111" textLength="24.74" lengthAdjust="spacingAndGlyphs" stroke="#111111" stroke-width="0.3">May</text>
<text x="1603.90" y="751.55" font-size="11.8" fill="#111111" textLength="7.65" lengthAdjust="spacingAndGlyphs" stroke="#111111" stroke-width="0.3">6</text>
<text x="1659.15" y="751.55" font-size="11.8" fill="#111111" textLength="13.61" lengthAdjust="spacingAndGlyphs" stroke="#111111" stroke-width="0.3">11</text>
<g transform="translate(13,779) scale(0.727)" fill="#161616"><path d="M14 22H7V11H0V4h14v18z"/><circle cx="20" cy="8" r="4"/><path d="M28 22h-8l7.5-18h8L28 22z"/></g>
<text x="43.96" y="794.80" font-size="18.5" fill="#161616" textLength="94.81" lengthAdjust="spacingAndGlyphs" stroke="#161616" stroke-width="0.45">TradingView</text>
</svg>
</body></html>
